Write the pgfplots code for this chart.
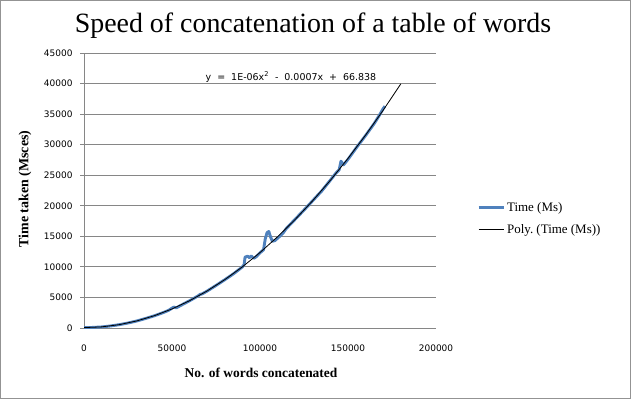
\documentclass[border=0pt]{standalone}
\usepackage{pgfplots}
\pgfplotsset{compat=1.18}
\usepackage{fontspec}
\setmainfont{Liberation Serif}
\newfontfamily\tickfont{DejaVu Sans}
\definecolor{series}{HTML}{4F81BD}
\definecolor{gridgray}{HTML}{868686}
\begin{document}
\begin{tikzpicture}[x=1bp,y=1bp]
\path[use as bounding box] (0,0) rectangle (631,399);
\draw[gray!85, line width=1.2bp] (0.6,0.6) rectangle (630.4,398.4);
\node[font=\fontsize{28}{31}\selectfont] at (313,373) {Speed of concatenation of a table of words};
\node[font=\bfseries\fontsize{13.5}{15}\selectfont] at (261,26) {No. of words concatenated};
\node[font=\bfseries\fontsize{14}{16}\selectfont, rotate=90] at (25,210) {Time taken (Msces)};
\begin{axis}[
  at={(84bp,71bp)}, anchor=south west,
  scale only axis, width=352bp, height=275bp,
  xmin=0, xmax=200000, ymin=0, ymax=45000,
  xtick={0,50000,100000,150000,200000},
  xticklabels={0,50000,100000,150000,200000},
  ytick={0,5000,10000,15000,20000,25000,30000,35000,40000,45000},
  yticklabels={0,5000,10000,15000,20000,25000,30000,35000,40000,45000},
  scaled ticks=false,
  axis x line=bottom, axis y line=left,
  axis line style={-, draw=gridgray, line width=0.8bp},
  ymajorgrids, major grid style={draw=gridgray, line width=0.8bp},
  tick align=outside, major tick length=4bp,
  ytick style={draw=gridgray, line width=0.8bp},
  xtick style={draw=none},
  tick label style={font=\tickfont\fontsize{9}{10}\selectfont},
  yticklabel style={xshift=-4bp},
  xticklabel style={yshift=-9bp},
  legend style={at={(1.1165,0.398)}, anchor=west, draw=none, fill=none,
    font=\fontsize{13}{15}\selectfont, row sep=7bp, inner sep=0pt,
    cells={anchor=west}},
  legend image code/.code={\draw[#1] (0bp,0bp) -- (25bp,0bp);},
]
\addplot[series, line width=2.9bp, line join=round] coordinates {
(0,60) (2000,65) (5000,95) (10000,175) (15000,330) (20000,545) (25000,815)
(30000,1150) (35000,1560) (40000,2000) (45000,2520) (48000,2880)
(50000,3250) (51000,3420) (52500,3300) (55000,3700) (60000,4460)
(65000,5280) (66000,5520) (67000,5560) (70000,6050) (75000,6960) (80000,7900)
(85000,8880) (88000,9550) (90000,10000) (91000,10400) (91500,11600)
(93000,11750) (94000,11500) (95000,11800) (96500,11400) (98000,11700)
(100000,12300) (102000,12800) (103000,14600) (104000,15600) (105000,15800)
(106000,14900) (107000,14200) (108500,14300) (110000,14700) (111000,14950)
(113000,15500) (115000,16300) (120000,17800) (125000,19300) (130000,20850)
(135000,22400) (140000,24200) (143000,25300) (145000,25900) (146000,27300)
(147500,26700) (150000,27600) (155000,29600) (160000,31500) (165000,33500)
(168000,34900) (170000,35900) (171000,36300)
};
\addlegendentry{Time (Ms)}
\addplot[black, line width=0.8bp] coordinates {
(0,67) (10000,183) (20000,547) (30000,1157) (40000,2015) (50000,3119)
(60000,4471) (70000,6069) (80000,7915) (90000,10007) (100000,12347)
(110000,14933) (120000,17767) (130000,20847) (140000,24175) (150000,27749)
(160000,31571) (170000,35639) (180000,39955)
};
\addlegendentry{Poly.\ (Time (Ms))}
\node[font=\tickfont\fontsize{9.5}{11}\selectfont] at (axis cs:117600,41070)
  {y\ \ =\ \ 1E-06x\textsuperscript{2}\ \ -\ \ 0.0007x\ \ +\ \ 66.838};
\end{axis}
\end{tikzpicture}
\end{document}
